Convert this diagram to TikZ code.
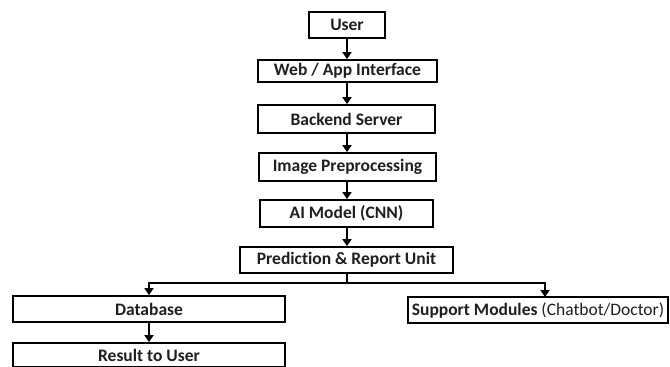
\documentclass[tikz,border=0pt]{standalone}
\usepackage{fontspec}
\setmainfont{Carlito}[Ligatures=NoCommon]
\usetikzlibrary{arrows.meta}
\begin{document}
\begin{tikzpicture}[x=1pt,y=1pt,
  box/.style={draw=black,line width=1.8pt,fill=white,inner sep=0pt,font=\fontsize{17.5}{19}\selectfont\bfseries,text=black!88},
  arr/.style={line width=1.8pt,-{Triangle[length=7pt,width=9pt]}}]
\useasboundingbox[fill=white] (0,0) rectangle (670,-367);
\node[box,minimum width=76pt,minimum height=26pt] (user) at (347,-25) {User};
\node[box,minimum width=179pt,minimum height=22pt] (web) at (347.5,-71) {Web / App Interface};
\node[box,minimum width=177pt,minimum height=28pt] (back) at (346.5,-119) {Backend Server};
\node[box,minimum width=177pt,minimum height=28pt] (img) at (347.5,-167) {Image Preprocessing};
\node[box,minimum width=173pt,minimum height=27pt] (ai) at (346.5,-213.5) {AI Model (CNN)};
\node[box,minimum width=213pt,minimum height=26pt] (pred) at (346.5,-260) {Prediction \& Report Unit};
\node[box,minimum width=272pt,minimum height=26pt] (db) at (149,-309) {Database};
\node[box,minimum width=272pt,minimum height=24pt] (res) at (149,-355) {Result to User};
\node[box,minimum width=260pt,minimum height=26pt] (sup) at (538,-310) {Support Modules \mdseries(Chatbot/Doctor)};
\coordinate (j) at (347,-283);
\coordinate (supin) at (545,-297);
\draw[arr] (347,-37) coordinate (u0) (user.south -| u0) -- (web.north -| u0);
\draw[arr] (web.south -| u0) -- (back.north -| u0);
\draw[arr] (back.south -| u0) -- (img.north -| u0);
\draw[arr] (img.south -| u0) -- (ai.north -| u0);
\draw[arr] (ai.south -| u0) -- (pred.north -| u0);
\draw[line width=1.8pt] (pred.south -| j) -- (j);
\draw[arr] (j) -| (db.north);
\draw[arr] (j) -| (supin);
\draw[arr] (db.south) -- (res.north);
\end{tikzpicture}
\end{document}
